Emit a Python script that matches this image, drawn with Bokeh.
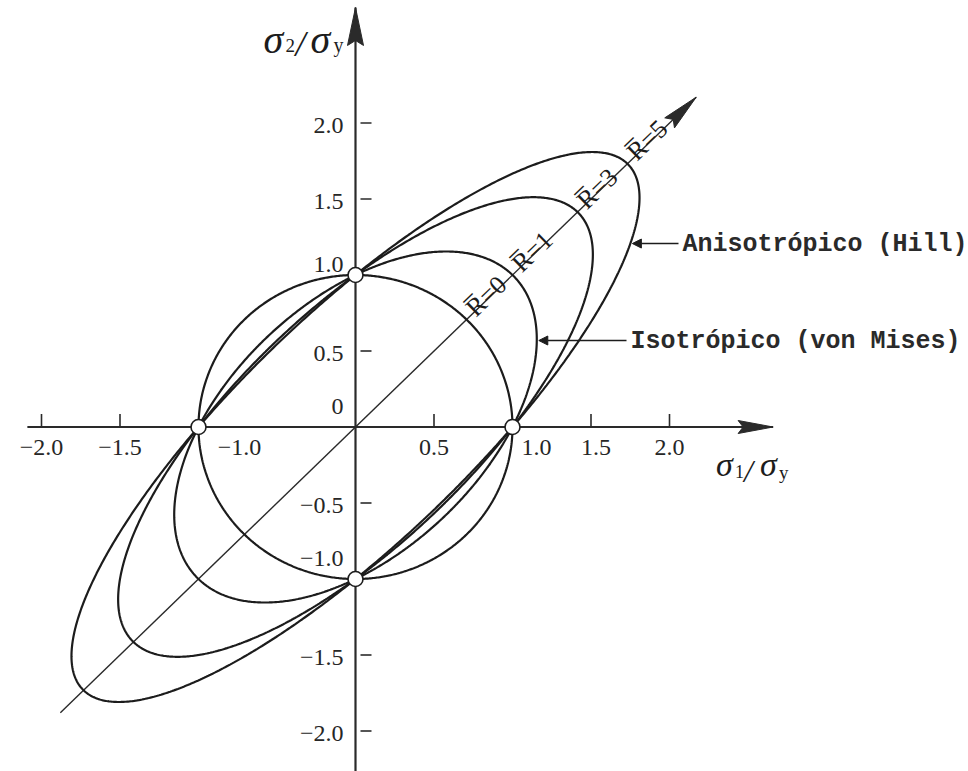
import numpy as np
from bokeh.plotting import figure
from bokeh.models import Range1d, Arrow, NormalHead
from bokeh.core.properties import value
from bokeh.embed import file_html
from bokeh.resources import INLINE

W, H = 968, 771
# pixel position of the origin and pixels per unit of stress ratio
X0, Y0 = 355.0, 426.5
SX, SY = 157.0, 152.0

# normal anisotropy ratios of the plotted Hill (1948) yield loci
R_VALUES = [0, 1, 3, 5]
R_LABELS = ["R\u0305=0", "R\u0305=1", "R\u0305=3", "R\u0305=5"]

# axis ticks and their labels
X_TICKS = [-2.0, -1.5, 0.5, 1.5, 2.0]
X_LABEL_VALUES = [-2.0, -1.5, -1.0, 0.5, 1.0, 1.5, 2.0]
X_LABEL_TEXTS = ["\u22122.0", "\u22121.5", "\u22121.0", "0.5", "1.0", "1.5", "2.0"]
Y_TICKS = [2.0, 1.5, 0.5, -0.5, -1.5, -2.0]
Y_LABEL_VALUES = [2.0, 1.5, 1.0, 0.5, 0.0, -0.5, -1.0, -1.5, -2.0]
Y_LABEL_TEXTS = ["2.0", "1.5", "1.0", "0.5", "0", "\u22120.5", "\u22121.0", "\u22121.5", "\u22122.0"]

# uniaxial yield points (tension / compression) on both axes
YIELD_S1 = [1.0, -1.0, 0.0, 0.0]
YIELD_S2 = [0.0, 0.0, 1.0, -1.0]

# extent of the drawn axes and of the equibiaxial diagonal
X_AXIS_EXTENT = (-2.09, 2.66)
Y_AXIS_EXTENT = (-2.30, 2.76)
DIAG_EXTENT = (-1.88, 2.17)

HILL_TEXT = "Anisotr\u00f3pico (Hill)"
MISES_TEXT = "Isotr\u00f3pico (von Mises)"
HILL_R, HILL_LEVEL = 5, 1.207     # pointer height (sigma2/sigma_y) on the R=5 locus
MISES_R, MISES_LEVEL = 1, 0.569   # pointer height on the von Mises ellipse

INK = "#1c1c1c"
AXIS_INK = "#2a2a2a"
SERIF = value("Liberation Serif")
MONO = value("Liberation Mono")


def hill_locus(R, n=721):
    """sigma1^2 + sigma2^2 - 2R/(1+R) sigma1 sigma2 = 1 as a closed curve."""
    t = np.linspace(0.0, 2.0 * np.pi, n)
    a = np.sqrt(1.0 + R)                      # semi-axis along sigma1 = sigma2
    b = np.sqrt((1.0 + R) / (1.0 + 2.0 * R))  # semi-axis along sigma1 = -sigma2
    u, v = a * np.cos(t), b * np.sin(t)
    return (u + v) / np.sqrt(2.0), (u - v) / np.sqrt(2.0)


def hill_right_branch(R, s2):
    k = R / (1.0 + R)
    return k * s2 + np.sqrt(k * k * s2 * s2 - s2 * s2 + 1.0)


p = figure(width=W, height=H, output_backend="svg", toolbar_location=None,
           x_range=Range1d(-X0 / SX, (W - X0) / SX),
           y_range=Range1d(-(H - Y0) / SY, Y0 / SY),
           x_axis_type=None, y_axis_type=None, min_border=0)
p.grid.visible = False
p.outline_line_color = None
p.background_fill_color = "white"
p.border_fill_color = "white"

# equibiaxial diagonal
p.line(list(DIAG_EXTENT), list(DIAG_EXTENT), line_color=AXIS_INK, line_width=1.4)

# coordinate axes
p.line(list(X_AXIS_EXTENT), [0, 0], line_color=AXIS_INK, line_width=2.2)
p.line([0, 0], list(Y_AXIS_EXTENT), line_color=AXIS_INK, line_width=2.2)


def arrow_head(tip_x, tip_y, ux, uy, length=36.0, half=7.0, notch=5.0):
    """Filled arrow head in data coords; (ux, uy) is a screen-space unit direction."""
    tx, ty = tip_x * SX, tip_y * SY
    nx, ny = -uy, ux
    bx, by = tx - ux * length, ty - uy * length
    pts = [(tx, ty),
           (bx + nx * half, by + ny * half),
           (tx - ux * (length - notch), ty - uy * (length - notch)),
           (bx - nx * half, by - ny * half)]
    return [q[0] / SX for q in pts], [q[1] / SY for q in pts]


hx, hy = arrow_head(X_AXIS_EXTENT[1], 0.0, 1.0, 0.0, length=35, half=6.5)
p.patch(hx, hy, fill_color=AXIS_INK, line_color=AXIS_INK, line_width=1)
hx, hy = arrow_head(0.0, Y_AXIS_EXTENT[1], 0.0, 1.0, length=38, half=8)
p.patch(hx, hy, fill_color=AXIS_INK, line_color=AXIS_INK, line_width=1)
theta = np.arctan2(SY, SX)
hx, hy = arrow_head(DIAG_EXTENT[1], DIAG_EXTENT[1], np.cos(theta), np.sin(theta), length=37, half=7)
p.patch(hx, hy, fill_color=AXIS_INK, line_color=AXIS_INK, line_width=1)

# tick marks
tick_h = 13.0 / SY
p.segment(x0=X_TICKS, y0=[0] * len(X_TICKS), x1=X_TICKS, y1=[tick_h] * len(X_TICKS),
          line_color=AXIS_INK, line_width=1.6)
p.segment(x0=[5.0 / SX] * len(Y_TICKS), y0=Y_TICKS, x1=[16.0 / SX] * len(Y_TICKS), y1=Y_TICKS,
          line_color=AXIS_INK, line_width=1.6)

# tick labels (the ones next to the yield points are nudged clear of the curves)
x_nudge = {-1.0: 41, 1.0: 24, 1.5: 5}
p.text(x=X_LABEL_VALUES, y=[0] * len(X_LABEL_VALUES), text=X_LABEL_TEXTS,
       x_offset=[x_nudge.get(v, 0) for v in X_LABEL_VALUES], y_offset=20,
       text_align="center", text_baseline="middle", text_font=SERIF,
       text_font_size=value("24px"), text_color="#262626")
y_nudge = {1.0: -11, 0.0: -21, -1.0: -21}
p.text(x=[0] * len(Y_LABEL_VALUES), y=Y_LABEL_VALUES, text=Y_LABEL_TEXTS,
       x_offset=-12, y_offset=[y_nudge.get(v, 2) for v in Y_LABEL_VALUES],
       text_align="right", text_baseline="middle", text_font=SERIF,
       text_font_size=value("24px"), text_color="#262626")

# yield loci
for R in R_VALUES:
    s1, s2 = hill_locus(R)
    p.line(s1, s2, line_color=INK, line_width=2.2)

# R labels along the diagonal, starting where each locus crosses it
cross = [np.sqrt((1.0 + R) / 2.0) for R in R_VALUES]
along, perp = 8.0, 3.0
xo = along * np.cos(theta) - perp * np.sin(theta)
yo = -(along * np.sin(theta) + perp * np.cos(theta))
p.text(x=cross, y=cross, text=R_LABELS, angle=theta, x_offset=xo, y_offset=yo,
       text_align="left", text_baseline="alphabetic", text_font=SERIF,
       text_font_size=value("26px"), text_color=INK)

# yield points
p.scatter(YIELD_S1, YIELD_S2, size=15, marker="circle", fill_color="white",
          line_color=INK, line_width=1.6)

# callouts
hill_tip = hill_right_branch(HILL_R, HILL_LEVEL)
mises_tip = hill_right_branch(MISES_R, MISES_LEVEL)
hill_text_x = (682 - X0) / SX
mises_text_x = (630 - X0) / SX
for tip, lvl, tx in [(hill_tip, HILL_LEVEL, hill_text_x), (mises_tip, MISES_LEVEL, mises_text_x)]:
    p.add_layout(Arrow(end=NormalHead(size=9, fill_color=INK, line_color=INK, line_width=1),
                       x_start=tx - 4.0 / SX, y_start=lvl, x_end=tip + 2.0 / SX, y_end=lvl,
                       line_color=INK, line_width=1.4))
p.text(x=[hill_text_x, mises_text_x], y=[HILL_LEVEL, MISES_LEVEL], text=[HILL_TEXT, MISES_TEXT],
       text_align="left", text_baseline="middle", text_font=MONO, text_font_style="bold",
       text_font_size=value("25px"), text_color="#2a2a2a", y_offset=1)


# axis titles: sigma_2 / sigma_y (top) and sigma_1 / sigma_y (right)
def title(anchor_x, anchor_y, parts):
    for txt, dx, dy, size, style in parts:
        p.text(x=[anchor_x], y=[anchor_y], text=[txt], x_offset=dx, y_offset=dy,
               text_align="left", text_baseline="alphabetic", text_font=SERIF,
               text_font_style=style, text_font_size=value(f"{size}px"), text_color=INK)


title(0.0, Y_AXIS_EXTENT[1], [("\u03c3", -92, 32, 40, "italic"),
                              ("2", -70, 38, 19, "normal"),
                              ("/", -60, 37, 36, "italic"),
                              ("\u03c3", -45, 32, 40, "italic"),
                              ("y", -22, 38, 20, "normal")])
title(X_AXIS_EXTENT[1], 0.0, [("\u03c3", -57, 37, 34, "italic"),
                              ("1", -38, 44, 18, "normal"),
                              ("/", -29, 44, 32, "italic"),
                              ("\u03c3", -13, 37, 34, "italic"),
                              ("y", 6, 45, 19, "normal")])

open("out.html", "w").write(file_html(p, INLINE))
